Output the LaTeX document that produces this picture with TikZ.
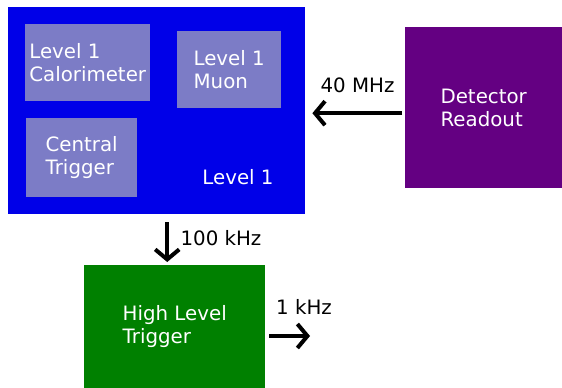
\documentclass[tikz,border=0pt]{standalone}
\usepackage{fontspec}
\setmainfont{DejaVu Sans}
\usepackage{tikz}
\usetikzlibrary{arrows.meta, calc}
\definecolor{lvlblue}{RGB}{0,0,232}
\definecolor{subblue}{RGB}{124,124,198}
\definecolor{detpurple}{RGB}{100,0,130}
\definecolor{hltgreen}{RGB}{0,128,0}
\tikzset{
    bigbox/.style={draw=none, anchor=north west, inner sep=0pt, text=white, align=left},
    subbox/.style={bigbox, fill=subblue},
    rate/.style={anchor=base, text=black},
    flow/.style={line width=4pt, -{Straight Barb[length=10pt, width=24pt, line width=4pt]}}
}

\begin{document}
\begin{tikzpicture}[x=1pt, y=-1pt, font=\fontsize{19.8}{23}\selectfont]
    \useasboundingbox (0,0) rectangle (562,388);
    % level 1 block with its parts
    \node[bigbox, fill=lvlblue, minimum width=297pt, minimum height=207pt] (l1) at (8,7) {};
    \node[subbox, minimum width=125pt, minimum height=77pt] (calo) at (25,24) {Level 1\\Calorimeter};
    \node[subbox, minimum width=104pt, minimum height=77pt] (muon) at (177,31) {Level 1\\Muon};
    \node[subbox, minimum width=111pt, minimum height=79pt] (gt) at (26,118) {Central\\Trigger};
    \node[anchor=base, text=white] (l1lab) at (238,184) {Level 1};
    % readout and HLT
    \node[bigbox, fill=detpurple, minimum width=157pt, minimum height=161pt] (det) at (405,27) {Detector\\Readout};
    \node[bigbox, fill=hltgreen, minimum width=181pt, minimum height=123pt] (hlt) at (84,265) {High Level\\Trigger};
    \coordinate (out) at (310,336);
    % rates
    \draw[flow, shorten <=3pt, shorten >=7pt] ([yshift=-5.5pt]det.west) -- ([yshift=-5.5pt]det.west -| l1.east);
    \draw[flow, shorten <=8pt, shorten >=3pt] ([xshift=-7.5pt]hlt.north |- l1.south) -- ([xshift=-7.5pt]hlt.north);
    \draw[flow, shorten <=4pt] (hlt.east |- out) -- (out);
    \node[rate] (r40) at (357.5,92) {40 MHz};
    \node[rate] (r100) at (221,245) {100 kHz};
    \node[rate] (r1) at (304,314) {1 kHz};
\end{tikzpicture}
\end{document}
